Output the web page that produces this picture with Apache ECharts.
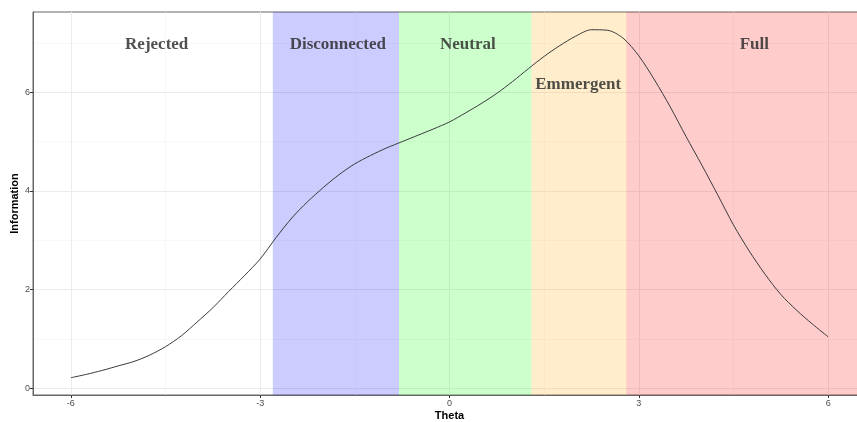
<!DOCTYPE html>
<html>
<head>
<meta charset="utf-8">
<script src="https://cdn.jsdelivr.net/npm/echarts@6/dist/echarts.min.js"></script>
<style>html,body{margin:0;padding:0;background:#fff;}#c{width:857px;height:422px;}</style>
</head>
<body>
<div id="c"></div>
<script>
// Curve data (theta, information)
const theta = [-6, -5.75, -5.5, -5.25, -5, -4.75, -4.5, -4.25, -4, -3.75, -3.5, -3.25, -3, -2.75, -2.5, -2.25, -2, -1.75, -1.5, -1.25, -1, -0.75, -0.5, -0.25, 0, 0.25, 0.5, 0.75, 1, 1.25, 1.5, 1.75, 2, 2.25, 2.5, 2.75, 3, 3.25, 3.5, 3.75, 4, 4.25, 4.5, 4.75, 5, 5.25, 5.5, 5.75, 6];
const information = [0.21, 0.28, 0.36, 0.45, 0.54, 0.67, 0.84, 1.06, 1.34, 1.63, 1.96, 2.28, 2.62, 3.05, 3.45, 3.78, 4.07, 4.33, 4.55, 4.72, 4.87, 5.00, 5.13, 5.26, 5.40, 5.58, 5.77, 5.98, 6.22, 6.48, 6.73, 6.95, 7.14, 7.27, 7.26, 7.10, 6.74, 6.25, 5.70, 5.10, 4.52, 3.92, 3.31, 2.78, 2.31, 1.90, 1.58, 1.30, 1.04];

// Region bands
const bandNames = ['Disconnected', 'Neutral', 'Emmergent', 'Full'];
const bandStart = [-2.8, -0.8, 1.3, 2.8];
const bandEnd = [-0.8, 1.3, 2.8, 7];
const bandColors = ['rgba(0,0,255,0.2)', 'rgba(0,255,0,0.2)', 'rgba(255,165,0,0.2)', 'rgba(255,0,0,0.2)'];

// Region labels
const labelText = ['Rejected', 'Disconnected', 'Neutral', 'Emmergent', 'Full'];
const labelX = [-4.64, -1.77, 0.29, 2.04, 4.83];
const labelY = [6.97, 6.97, 6.97, 6.16, 6.97];

// Axis ticks
const xTicks = [-6, -3, 0, 3, 6];
const xMinor = [-4.5, -1.5, 1.5, 4.5];
const yTicks = [0, 2, 4, 6];
const yMinor = [1, 3, 5, 7];

const chart = echarts.init(document.getElementById('c'), null, {renderer: 'canvas'});

const gridLines = [];
xMinor.forEach(v => gridLines.push({xAxis: v, lineStyle: {color: '#F3F3F3', width: 0.6, type: 'solid'}}));
yMinor.forEach(v => gridLines.push({yAxis: v, lineStyle: {color: '#F3F3F3', width: 0.6, type: 'solid'}}));
xTicks.forEach(v => gridLines.push({xAxis: v, lineStyle: {color: '#EBEBEB', width: 1, type: 'solid'}}));
yTicks.forEach(v => gridLines.push({yAxis: v, lineStyle: {color: '#EBEBEB', width: 1, type: 'solid'}}));

const axisLabelStyle = {color: '#4D4D4D', fontSize: 9, fontFamily: 'Liberation Sans, Arial, sans-serif'};

chart.setOption({
  animation: false,
  backgroundColor: '#fff',
  grid: {left: 33, top: 12, right: -9, bottom: 27, show: true, borderColor: '#666', borderWidth: 1,
         containLabel: false, outerBoundsMode: 'none'},
  xAxis: {
    type: 'value', min: -6.6, max: 6.6,
    name: 'Theta', nameLocation: 'middle', nameGap: 15, nameMoveOverlap: false,
    nameTextStyle: {color: '#000', fontSize: 11, fontWeight: 'bold', fontFamily: 'Liberation Sans, Arial, sans-serif'},
    axisLine: {show: true, onZero: false, lineStyle: {color: '#666', width: 1}},
    axisTick: {show: true, customValues: xTicks, length: 3, lineStyle: {color: '#333'}},
    axisLabel: Object.assign({customValues: xTicks, margin: 4}, axisLabelStyle),
    splitLine: {show: false}
  },
  yAxis: {
    type: 'value', min: -0.14, max: 7.63,
    name: 'Information', nameLocation: 'middle', nameGap: 13, nameRotate: 90, nameMoveOverlap: false,
    nameTextStyle: {color: '#000', fontSize: 11, fontWeight: 'bold', fontFamily: 'Liberation Sans, Arial, sans-serif'},
    axisLine: {show: true, onZero: false, lineStyle: {color: '#666', width: 1}},
    axisTick: {show: true, customValues: yTicks, length: 3, lineStyle: {color: '#333'}},
    axisLabel: Object.assign({customValues: yTicks, margin: 3}, axisLabelStyle),
    splitLine: {show: false}
  },
  series: [
    {
      name: 'grid', type: 'line', data: [], z: 0, silent: true,
      markLine: {silent: true, z: 0, symbol: 'none', label: {show: false}, animation: false, data: gridLines}
    },
    {
      name: 'bands', type: 'line', data: [], z: 1, silent: true,
      markArea: {
        silent: true, z: 1,
        data: bandNames.map((n, i) => [
          {xAxis: bandStart[i], itemStyle: {color: bandColors[i]}},
          {xAxis: bandEnd[i]}
        ])
      }
    },
    {
      name: 'Information', type: 'line', z: 3,
      data: theta.map((t, i) => [t, information[i]]),
      smooth: 0.3, showSymbol: false, symbol: 'none',
      lineStyle: {color: '#3a3a3a', width: 1}
    },
    {
      name: 'labels', type: 'scatter', z: 4, silent: true,
      symbolSize: 1, itemStyle: {color: 'rgba(0,0,0,0)'},
      data: labelText.map((t, i) => ({value: [labelX[i], labelY[i]], name: t})),
      label: {
        show: true, position: 'inside', formatter: p => p.name,
        color: '#262626', fontSize: 17, fontWeight: 'bold',
        fontFamily: 'Liberation Serif, Times New Roman, serif'
      }
    }
  ]
});
</script>
</body>
</html>
